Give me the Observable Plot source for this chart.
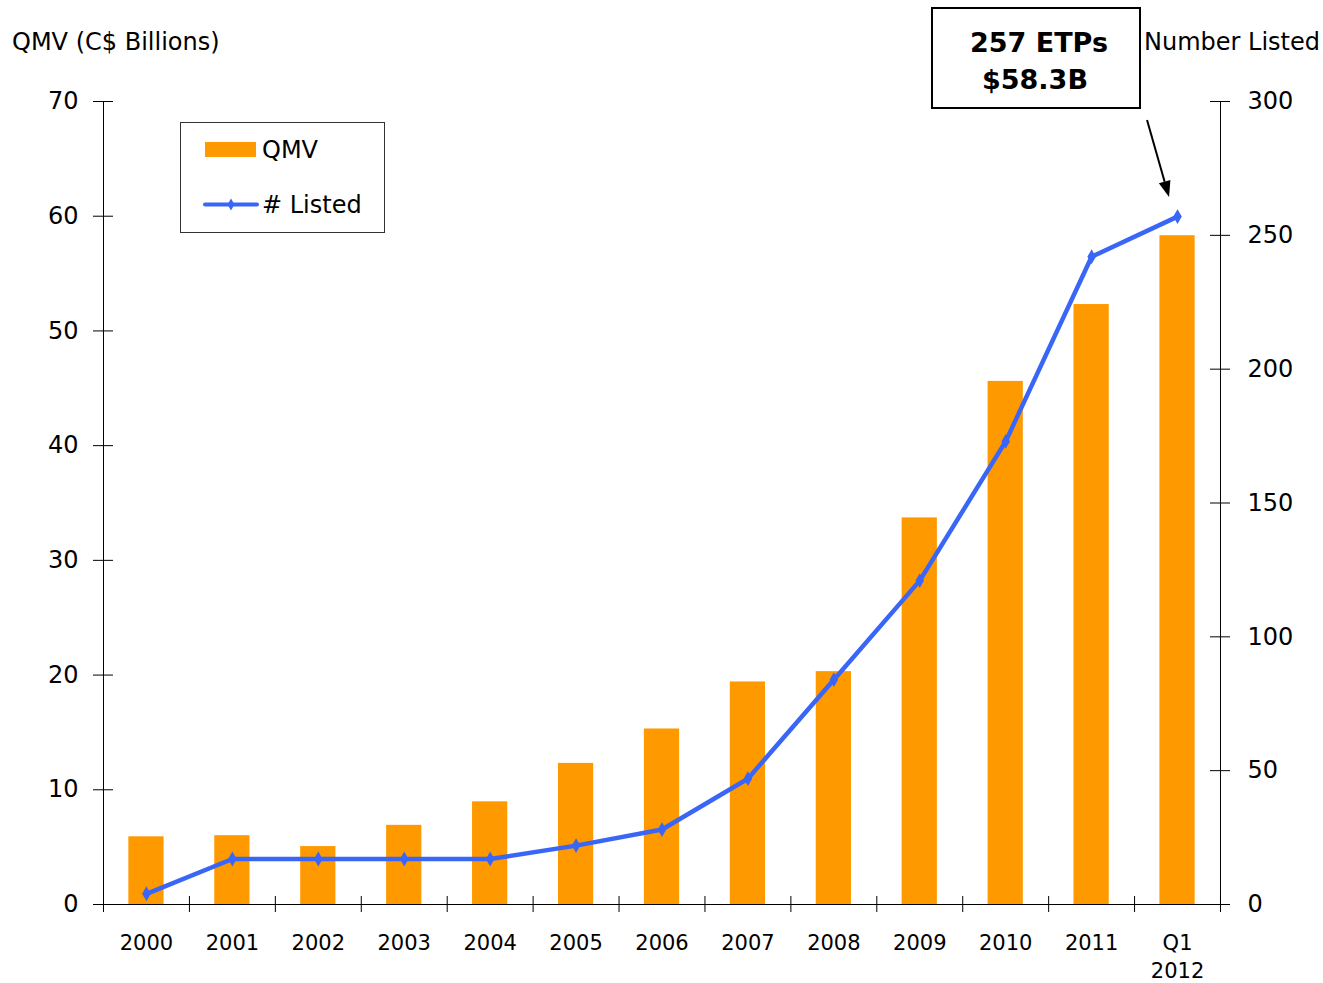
<!DOCTYPE html>
<html>
<head>
<meta charset="utf-8">
<script src="https://cdn.jsdelivr.net/npm/d3@7"></script>
<script src="https://cdn.jsdelivr.net/npm/@observablehq/plot@0.6"></script>
<style>
  html, body { margin: 0; padding: 0; background: #fff; }
  #chart svg { display: block; font-family: "DejaVu Sans", Verdana, sans-serif; color: #000; }
</style>
</head>
<body>
<div id="chart"></div>
<script>
// ---- data ----
const years = ["2000", "2001", "2002", "2003", "2004", "2005", "2006", "2007", "2008", "2009", "2010", "2011", "Q1\n2012"];
const qmv = [5.9, 6.0, 5.05, 6.9, 8.95, 12.3, 15.3, 19.4, 20.3, 33.7, 45.6, 52.3, 58.3];
const listed = [4, 17, 17, 17, 17, 22, 28, 47, 84, 121, 173, 242, 257];
const leftTicks = [0, 10, 20, 30, 40, 50, 60, 70];
const rightTicks = [0, 50, 100, 150, 200, 250, 300];
const leftTitle = "QMV (C$ Billions)";
const rightTitle = "Number Listed";
const calloutLines = ["257 ETPs", "$58.3B"];
const legendItems = ["QMV", "# Listed"];

const data = years.map((year, i) => ({year, qmv: qmv[i], listed: listed[i]}));

// ---- layout ----
const W = 1323, H = 983, ML = 103, MR = 103, MT = 101, MB = 79;
const FW = W - ML - MR, FH = H - MT - MB;
const step = FW / years.length;
const yMax = 70, rMax = 300;
const toLeft = v => v * yMax / rMax;
const orange = "#ff9900", blue = "#3a66f8";

const plot = Plot.plot({
  width: W, height: H,
  marginLeft: ML, marginRight: MR, marginTop: MT, marginBottom: MB,
  style: {fontFamily: "DejaVu Sans, Verdana, sans-serif", color: "#000", background: "#fff"},
  x: {domain: years, paddingInner: 0.59, paddingOuter: 0.295, round: false},
  y: {domain: [0, yMax]},
  marks: [
    Plot.barY(data, {x: "year", y: "qmv", fill: orange}),
    // axis lines
    Plot.ruleY([0], {stroke: "#000", strokeWidth: 1}),
    Plot.ruleX([years[0]], {x: d => d, dx: -step / 2, stroke: "#000"}),
    Plot.ruleX([years[years.length - 1]], {x: d => d, dx: step / 2, stroke: "#000"}),
    // crossing ticks on y axes
    Plot.tickY(leftTicks, {y: d => d, insetRight: FW - 20, dx: -10, stroke: "#000"}),
    Plot.tickY(rightTicks.map(toLeft), {y: d => d, insetLeft: FW - 20, dx: 10, stroke: "#000"}),
    // crossing ticks on x axis at band boundaries
    Plot.tickX(years, {x: d => d, dx: -step / 2, insetTop: FH - 16, dy: 8, stroke: "#000"}),
    Plot.tickX([years[years.length - 1]], {x: d => d, dx: step / 2, insetTop: FH - 16, dy: 8, stroke: "#000"}),
    // line series
    Plot.line(data, {x: "year", y: d => toLeft(d.listed), stroke: blue, strokeWidth: 4.5, strokeLinejoin: "round", strokeLinecap: "round"}),
    Plot.dot(data, {x: "year", y: d => toLeft(d.listed), symbol: "diamond", r: 4.5, fill: blue, stroke: "none"}),
    // axes
    Plot.axisX({tickSize: 0, tickPadding: 26, fontSize: 21, lineHeight: 1.33, label: null}),
    Plot.axisY(leftTicks, {anchor: "left", tickSize: 0, tickPadding: 25, fontSize: 24, label: null}),
    Plot.axisY(rightTicks.map(toLeft), {anchor: "right", tickSize: 0, tickPadding: 27, fontSize: 24, label: null,
      tickFormat: d => String(Math.round(d * rMax / yMax))})
  ]
});

document.getElementById("chart").appendChild(plot);

// ---- annotations: titles, legend, callout ----
const svg = d3.select(plot);
const xs = plot.scale("x"), ys = plot.scale("y");
const g = svg.append("g").attr("font-family", "DejaVu Sans, Verdana, sans-serif")
  .attr("fill", "#000").attr("text-anchor", "start");

g.append("text").attr("x", 12).attr("y", 50).attr("text-anchor", "start").attr("font-size", 24).text(leftTitle);
g.append("text").attr("x", 1320).attr("y", 50).attr("text-anchor", "end").attr("font-size", 24).text(rightTitle);

// legend
const lg = g.append("g");
lg.append("rect").attr("x", 180.5).attr("y", 122.5).attr("width", 204).attr("height", 110)
  .attr("fill", "#fff").attr("stroke", "#333").attr("stroke-width", 1);
lg.append("rect").attr("x", 205).attr("y", 142).attr("width", 51).attr("height", 15).attr("fill", orange);
lg.append("text").attr("x", 262).attr("y", 158).attr("text-anchor", "start").attr("font-size", 24).text(legendItems[0]);
lg.append("line").attr("x1", 205).attr("x2", 257).attr("y1", 204.5).attr("y2", 204.5)
  .attr("stroke", blue).attr("stroke-width", 4).attr("stroke-linecap", "round");
lg.append("path").attr("d", d3.symbol(d3.symbolDiamond, 40)()).attr("transform", "translate(231,204.5)").attr("fill", blue);
lg.append("text").attr("x", 262).attr("y", 213).attr("text-anchor", "start").attr("font-size", 24).text(legendItems[1]);

// callout box
const cb = g.append("g");
cb.append("rect").attr("x", 932).attr("y", 8).attr("width", 208).attr("height", 100)
  .attr("fill", "#fff").attr("stroke", "#000").attr("stroke-width", 2);
cb.append("text").attr("x", 1039).attr("y", 52).attr("text-anchor", "middle").attr("font-size", 27).attr("font-weight", "bold").text(calloutLines[0]);
cb.append("text").attr("x", 1035).attr("y", 89).attr("text-anchor", "middle").attr("font-size", 27).attr("font-weight", "bold").text(calloutLines[1]);

// arrow pointing to the last point
const last = data[data.length - 1];
const px = xs.apply(last.year) + xs.bandwidth / 2;
const py = ys.apply(toLeft(last.listed));
const tip = [px - 8, py - 19], start = [px - 30, py - 96];
const ang = Math.atan2(tip[1] - start[1], tip[0] - start[0]);
const hl = 16, hw = 6;
const base = [tip[0] - hl * Math.cos(ang), tip[1] - hl * Math.sin(ang)];
g.append("line").attr("x1", start[0]).attr("y1", start[1]).attr("x2", base[0]).attr("y2", base[1])
  .attr("stroke", "#000").attr("stroke-width", 2);
g.append("path").attr("d", `M${tip[0]},${tip[1]}L${base[0] + hw * Math.sin(ang)},${base[1] - hw * Math.cos(ang)}L${base[0] - hw * Math.sin(ang)},${base[1] + hw * Math.cos(ang)}Z`)
  .attr("fill", "#000");
</script>
</body>
</html>
